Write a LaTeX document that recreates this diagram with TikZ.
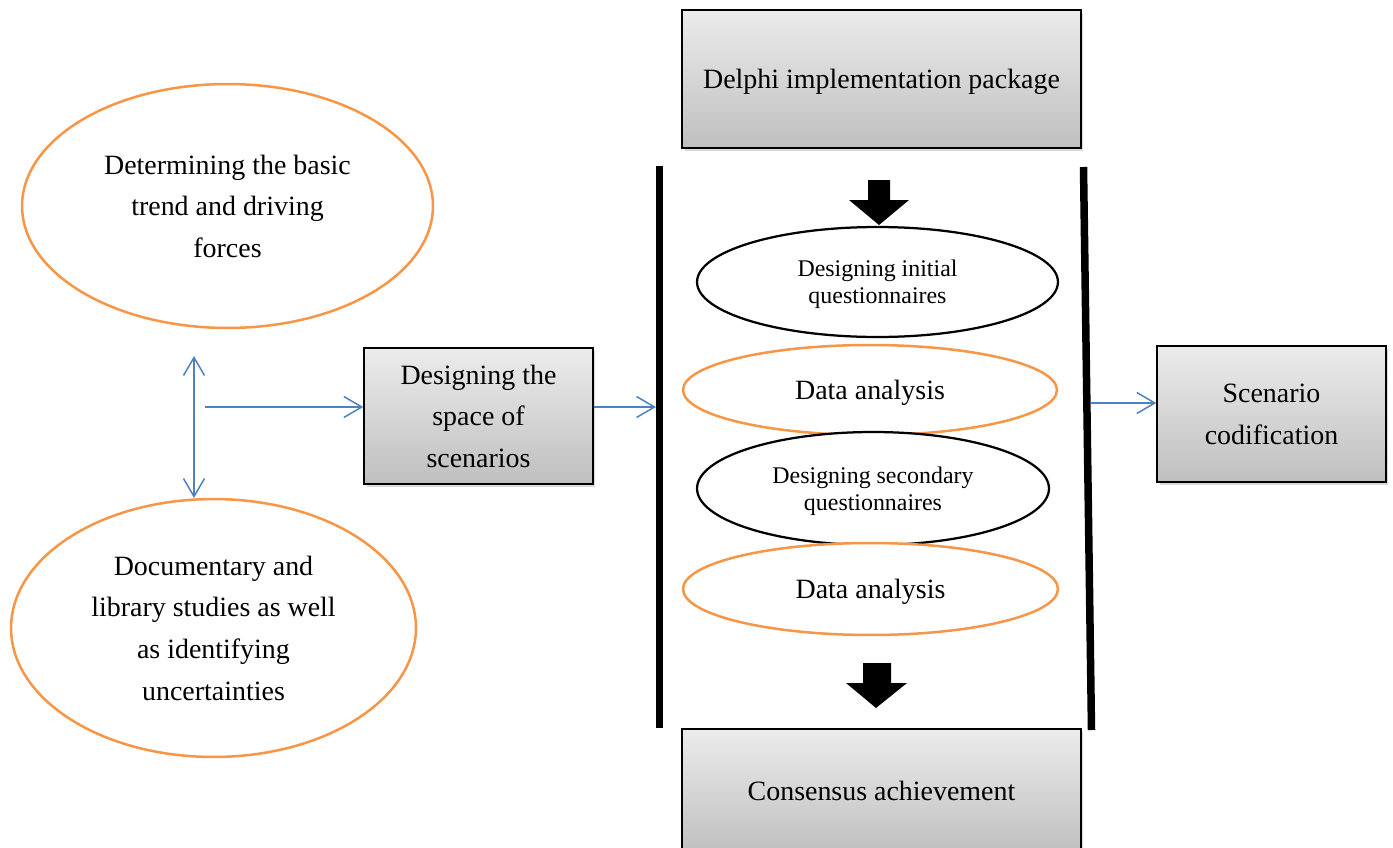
\documentclass[tikz,border=0pt]{standalone}
\usepackage{fontspec}
\setmainfont{Liberation Serif}
\usetikzlibrary{shapes.geometric, arrows.meta, shadows, calc}
\definecolor{linkblue}{HTML}{4F81BD}
\definecolor{ovalorange}{HTML}{F79646}
\newcommand{\bigtext}{\fontsize{15.9}{23.7}\selectfont}
\newcommand{\smalltext}{\fontsize{13.6}{15.4}\selectfont}

\begin{document}
\begin{tikzpicture}[x=0.02cm, y=-0.02cm,
  >={Straight Barb[length=0.36cm, width=0.42cm]},
  graybox/.style={draw=black, line width=0.03cm, top color=gray!15, bottom color=gray!50,
    drop shadow={opacity=0.3, shadow xshift=0.05cm, shadow yshift=-0.06cm},
    align=center, inner sep=0pt, text depth=0pt, font=\bigtext},
  orangeoval/.style={ellipse, draw=ovalorange, line width=0.05cm, fill=white, align=center, inner sep=0pt, text depth=0pt, font=\bigtext},
  blackoval/.style={ellipse, draw=black, line width=0.045cm, fill=white, align=center, inner sep=0pt, text depth=0pt, font=\smalltext},
  link/.style={draw=linkblue, line width=0.03cm},
  bar/.style={line width=0.15cm}]
\useasboundingbox (0,0) rectangle (1393,848);

% Left side: inputs
\node[orangeoval, minimum width=8.22cm, minimum height=4.88cm] (trends) at (227.5,206)
  {Determining the basic\\trend and driving\\forces};
\node[orangeoval, minimum width=8.10cm, minimum height=5.16cm] (studies) at (213.5,628)
  {Documentary and\\library studies as well\\as identifying\\uncertainties};
\node[graybox, minimum width=4.58cm, minimum height=2.72cm] (space) at (478.5,416)
  {Designing the\\space of\\scenarios};

% Delphi section
\node[graybox, minimum width=7.98cm, minimum height=2.76cm] (delphi) at (881.5,79)
  {Delphi implementation package};
\draw[bar] (659.5,166) -- (659.5,728);
\draw[bar] (1083.5,167) -- (1091.5,730);
\fill (868,180) -- (890,180) -- (890,200) -- (909,200) -- (879,225) -- (849,200) -- (868,200) -- cycle;

\node[blackoval, minimum width=7.22cm, minimum height=2.20cm] (initial) at (877.5,282)
  {Designing initial\\questionnaires};
\node[orangeoval, minimum width=7.48cm, minimum height=1.80cm] (analysis1) at (870,390)
  {Data analysis};
\node[blackoval, minimum width=7.04cm, minimum height=2.26cm] (secondary) at (873,488.5)
  {Designing secondary\\questionnaires};
\node[orangeoval, minimum width=7.50cm, minimum height=1.84cm] (analysis2) at (870.5,589)
  {Data analysis};

\fill (863,663) -- (891,663) -- (891,683) -- (907,683) -- (876,708) -- (846,683) -- (863,683) -- cycle;
\node[graybox, anchor=north, minimum width=7.98cm, minimum height=2.48cm] (consensus) at (881.5,728)
  {Consensus achievement};

% Output
\node[graybox, minimum width=4.58cm, minimum height=2.72cm] (codif) at (1271.5,414)
  {Scenario\\codification};

% Connectors
\coordinate (updown top) at (194,356);
\coordinate (updown bot) at (194,498);
\coordinate (feed) at (205,407);
\coordinate (leftbar) at (656,407);
\coordinate (rightbar) at (1091,403);
\draw[link, <->] (updown top) -- (updown bot);
\draw[link, ->] (feed) -- (feed -| space.west);
\draw[link, ->] (feed -| space.east) -- (leftbar);
\draw[link, ->] (rightbar) -- (rightbar -| codif.west);
\end{tikzpicture}
\end{document}
